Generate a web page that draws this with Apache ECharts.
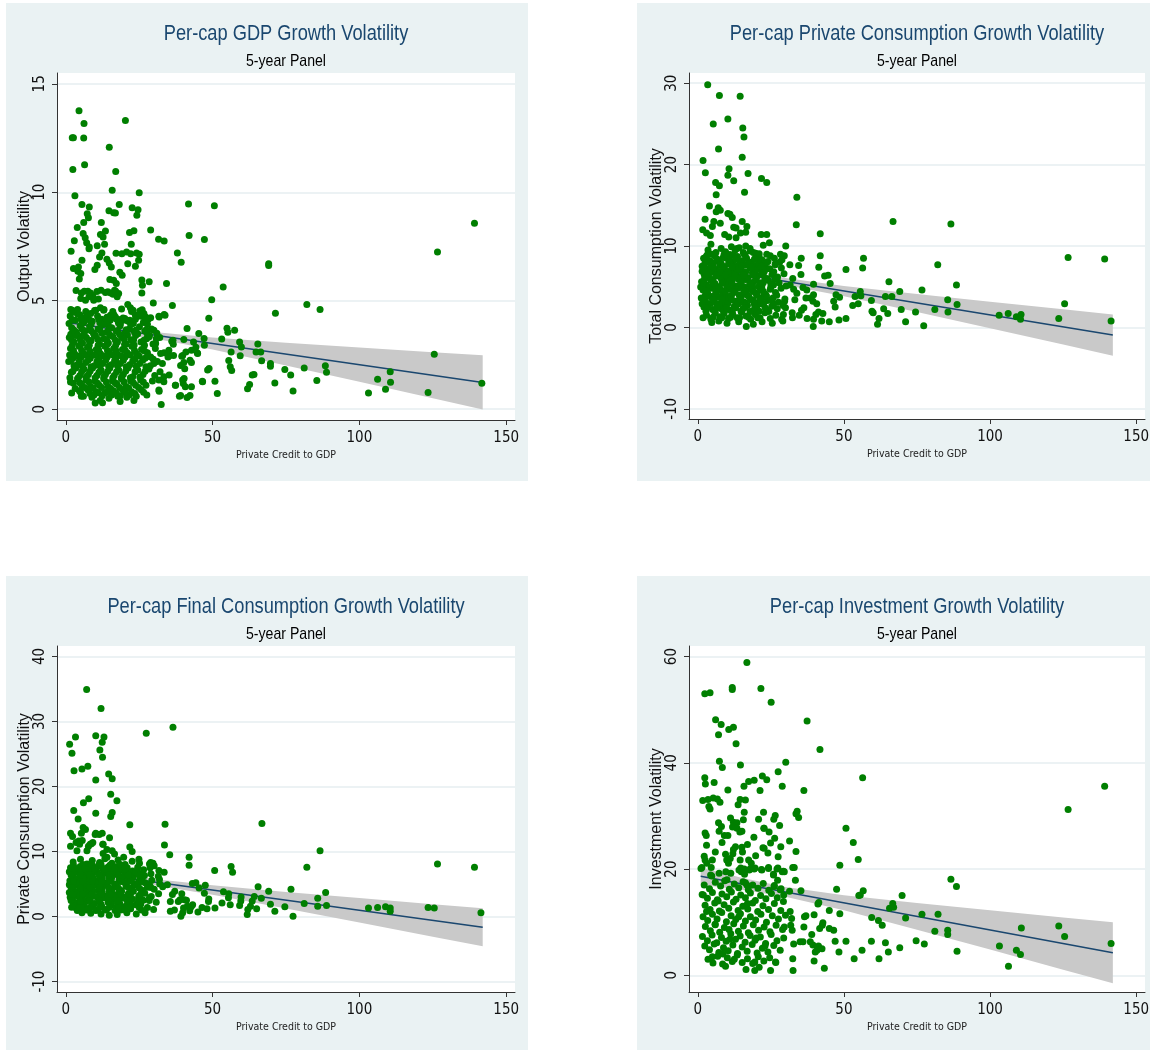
<!DOCTYPE html>
<html>
<head>
<meta charset="utf-8">
<script src="https://cdn.jsdelivr.net/npm/echarts@6/dist/echarts.min.js"></script>
<style>
  html, body { margin: 0; padding: 0; background: #fff; }
  #chart { width: 1151px; height: 1050px; }
</style>
</head>
<body>
<div id="chart"></div>
<script>
// shared x-axis stuff
const xTicks = [0, 50, 100, 150]
const fitX = [1, 142]
const bandX = [1, 15, 30, 50, 75, 100, 125, 142]

// --- Per-cap GDP growth volatility ---
const gdpTicks = [0, 5, 10, 15]
const gdpFit = [3.98, 1.23]
const gdpLo = [3.64, 3.49, 3.26, 2.75, 2.01, 1.26, 0.50, -0.02]
const gdpHi = [4.32, 3.92, 3.56, 3.30, 3.06, 2.84, 2.62, 2.48]
const gdpPts = [
  [4.5,13.76],[6.2,13.17],[2.2,12.51],[2.6,12.51],[6.1,12.5],[2.4,11.05],[6.4,11.27],[20.3,13.31],[14.8,12.08],[17.0,10.96],
  [3.1,9.84],[15.8,10.09],[25.0,9.98],[5.5,9.44],[8.0,9.32],[18.2,9.44],[22.6,9.29],[24.2,8.94],[24.6,9.2],[14.7,9.15],
  [16.3,9.06],[7.3,9.01],[7.7,8.83],[6.1,8.61],[12.1,8.61],[3.9,8.38],[21.7,8.14],[23.2,8.23],[28.9,8.26],[41.8,9.46],
  [50.6,9.38],[42.0,8.01],[47.2,7.82],[31.6,7.83],[33.5,7.75],[38.0,7.2],[39.3,6.77],[69.1,6.7],[69.1,6.62],[34.3,5.79],
  [53.6,5.63],[36.3,4.78],[29.8,4.9],[49.7,5.05],[48.7,4.19],[71.4,4.42],[82.1,4.82],[86.6,4.59],[126.6,7.25],[139.2,8.57],
  [125.5,2.53],[141.7,1.2],[123.4,0.77],[103.1,0.75],[106.2,1.38],[108.9,0.92],[110.5,1.73],[110.6,1.24],[88.4,2.0],[88.8,1.7],
  [85.5,1.32],[81.2,1.9],[77.4,0.84],[76.6,1.58],[74.6,1.83],[71.2,1.21],[69.7,2.1],[69.7,1.98],[66.7,2.23],[65.4,3.01],
  [66.4,2.63],[64.8,2.63],[64.1,1.6],[63.5,1.58],[61.9,0.94],[62.6,1.14],[59.4,2.46],[59.8,2.87],[59.2,3.1],[57.5,3.64],
  [54.9,3.73],[55.2,3.55],[53.1,3.24],[56.3,2.64],[55.5,2.24],[56.0,1.95],[56.5,1.78],[50.8,1.29],[51.6,0.72],[46.5,1.29],
  [48.8,1.87],[48.3,1.8],[47.2,2.95],[47.1,3.26],[45.3,3.49],[44.3,2.86],[44.8,2.59],[41.3,3.72],[42.8,2.72],[42.3,2.26],
  [42.8,2.15],[40.2,3.21],[39.8,2.47],[40.2,2.15],[39.1,2.01],[40.5,1.86],[37.3,1.1],[38.7,0.6],[39.1,0.63],[39.8,1.34],
  [40.0,1.18],[40.7,1.03],[41.3,0.54],[42.3,0.63],[42.8,1.03],[36.1,3.13],[36.6,2.99],[36.7,2.47],[35.4,2.47],[35.1,2.72],
  [32.5,0.21],[31.8,0.83],[31.7,1.34],[33.4,1.49],[33.5,4.36],[31.7,4.28],
  [16.9,9.05],[5.9,8.1],[6.6,7.9],[7.1,7.67],[2.9,7.76],[8.0,7.48],[7.9,7.4],[1.8,7.28],[11.8,8.05],[12.7,7.94],
  [13.2,7.6],[10.7,7.53],[13.5,8.22],[22.3,7.6],[17.1,7.19],[19.1,7.17],[20.7,7.25],[22.1,7.16],[24.1,7.2],[25.0,7.14],
  [24.8,6.87],[23.7,6.59],[21.1,6.71],[12.3,7.2],[11.5,7.02],[14.0,6.91],[14.8,6.74],[15.5,6.56],[10.7,6.64],[9.9,6.44],
  [2.6,6.48],[4.3,6.56],[4.1,6.36],[4.6,6.0],[5.5,6.87],[5.1,6.25],[15.0,5.98],[16.3,5.94],[17.2,5.79],[19.2,6.18],
  [18.4,6.31],[16.6,5.48],[17.5,5.18],[18.0,5.33],[25.9,5.96],[26.1,5.71],[25.9,5.36],[28.4,5.88],[3.5,5.47],[5.3,5.36],
  [6.3,5.44],[7.5,5.44],[8.4,5.36],[9.2,5.24],[10.6,5.42],[12.0,5.48],[13.5,5.38],[14.3,5.41],[15.3,5.36],[16.1,5.3],
  [17.0,5.44],[5.1,5.1],[6.7,5.02],[7.9,5.18],[9.5,5.02],[11.1,5.08],
  [1.7,4.59],[2.6,4.48],[4.0,4.39],[5.6,4.22],[7.2,4.33],[8.5,4.41],[10.2,4.56],[11.8,4.68],[12.9,4.56],[14.0,4.24],
  [15.2,4.33],[16.9,4.25],[18.6,4.13],[20.1,4.18],[21.1,4.82],[22.0,4.68],[22.9,4.56],[21.8,4.1],[23.7,4.33],[25.2,4.53],
  [25.7,4.28],[26.6,4.41],[27.2,4.25],[28.9,4.22],[31.8,4.25],[33.8,4.33],
  [32.3,2.57],[32.9,2.1],[32.1,1.72],[33.4,1.26],[31.7,0.88],[30.0,2.1],[30.6,3.03],[28.9,2.41],[27.7,3.49],[30.0,3.64],
  [28.3,3.33],[35.2,1.57],[34.8,2.41],[36.5,3.18],[37.4,1.1],[40.3,1.41],[39.5,2.44],[40.9,2.64],[43.5,3.1],[44.9,2.57],[46.6,1.26],
  [1.5,4.3],[3.2,4.1],[4.8,4.35],[6.1,4.0],[7.5,4.2],[9.0,4.05],[10.8,4.3],[12.2,4.15],[13.6,3.95],[15.1,4.1],
  [16.4,4.35],[17.9,3.98],[19.5,4.2],[21.3,4.05],[23.0,3.95],[24.6,4.3],[26.4,4.0],[28.1,4.15],
  [2.0,3.75],[3.6,3.55],[4.9,3.85],[6.5,3.6],[8.1,3.8],[9.4,3.5],[11.0,3.7],[12.7,3.9],[13.9,3.55],[15.6,3.75],
  [17.2,3.6],[18.5,3.85],[20.1,3.5],[21.7,3.7],[23.4,3.55],[25.1,3.8],[26.9,3.6],[29.2,3.7],[31.0,3.5],
  [1.2,3.3],[2.8,3.1],[4.2,3.4],[5.7,3.05],[7.0,3.3],[8.6,3.15],[10.1,3.4],[11.5,3.0],[13.0,3.25],[14.5,3.05],
  [16.0,3.35],[17.6,3.1],[19.0,3.3],[20.6,3.0],[22.2,3.2],[23.8,3.4],[25.6,3.1],[27.5,3.25],[29.7,3.0],[32.0,3.3],
  [1.6,2.8],[3.0,2.55],[4.5,2.9],[5.9,2.6],[7.4,2.85],[8.9,2.5],[10.4,2.75],[11.8,2.55],[13.3,2.9],[14.8,2.6],
  [16.3,2.8],[17.8,2.5],[19.3,2.75],[20.9,2.6],[22.5,2.9],[24.1,2.55],[25.8,2.75],[27.8,2.6],[30.5,2.8],[33.5,2.6],
  [1.0,2.2],[2.4,2.35],[3.9,2.05],[5.3,2.4],[6.8,2.15],[8.3,2.35],[9.7,2.0],[11.2,2.3],[12.6,2.1],[14.1,2.4],
  [15.5,2.05],[17.0,2.3],[18.6,2.1],[20.2,2.4],[21.8,2.05],[23.5,2.3],[25.2,2.1],[27.0,2.35],[28.8,2.0],[31.2,2.2],
  [1.9,1.7],[3.4,1.9],[4.8,1.55],[6.2,1.85],[7.7,1.6],[9.1,1.9],[10.6,1.55],[12.0,1.8],[13.5,1.6],[15.0,1.9],
  [16.5,1.55],[18.0,1.8],[19.6,1.6],[21.2,1.9],[22.8,1.5],[24.5,1.8],[26.3,1.6],[28.3,1.85],[30.3,1.55],
  [2.6,1.2],[4.0,1.4],[5.5,1.1],[6.9,1.35],[8.4,1.05],[9.9,1.3],[11.4,1.1],[12.9,1.4],[14.4,1.05],[15.9,1.3],
  [17.4,1.15],[18.9,1.4],[20.5,1.05],[22.1,1.3],[23.8,1.1],[25.5,1.35],[27.3,1.1],[29.5,1.3],
  [4.6,0.85],[6.0,0.6],[7.5,0.9],[8.9,0.55],[10.3,0.8],[11.7,0.4],[13.2,0.75],[14.7,0.5],[16.2,0.85],[17.7,0.6],
  [19.3,0.9],[20.8,0.55],[22.4,0.8],[24.0,0.6],[25.7,0.9],[27.6,0.65],[10.0,0.28],[12.5,0.3],[18.5,0.35],[23.2,0.4],
  [2.3,4.55],[4.0,4.6],[6.8,4.5],[9.8,4.55],[13.0,4.6],[16.0,4.5],[19.0,4.62],[22.4,4.5],[26.0,4.58],
  [1.1,3.95],[5.6,3.98],[8.6,3.9],[11.6,3.98],[14.4,3.9],[18.6,3.95],[22.1,3.9],[27.8,3.92],
  [1.7,3.45],[3.4,3.4],[6.2,3.45],[9.7,3.38],[12.3,3.5],[15.0,3.42],[18.3,3.45],[21.0,3.42],[24.5,3.48],[28.5,3.4],
  [2.2,2.95],[5.0,2.98],[8.0,2.95],[11.0,2.95],[14.0,2.98],[17.0,2.95],[20.0,2.98],[23.3,2.96],[26.8,2.95],
  [1.3,2.5],[4.2,2.45],[7.0,2.5],[10.0,2.48],[13.0,2.45],[16.0,2.5],[19.0,2.45],[22.0,2.5],[25.0,2.45],[28.0,2.45],
  [2.8,2.0],[5.6,1.98],[8.6,1.96],[11.6,2.0],[14.6,1.98],[17.6,2.0],[20.6,1.96],[24.0,1.98],[27.3,1.96],
  [1.4,1.45],[4.2,1.45],[7.0,1.48],[10.0,1.45],[13.0,1.48],[16.0,1.45],[19.0,1.48],[22.0,1.45],[25.2,1.48],
  [3.2,0.95],[6.4,1.0],[9.3,0.98],[12.2,1.0],[15.3,0.95],[18.3,1.0],[21.4,0.97],[24.8,1.0],
  [5.3,0.6],[9.6,0.65],[12.4,0.62],[15.6,0.65],[18.6,0.62],[21.6,0.65],
  [2.0,0.75],[5.0,0.78],[8.2,0.72],[11.0,0.76],[14.0,0.8],[17.2,0.74],[20.2,0.78],[23.5,0.72],[26.5,0.78],
  [1.6,1.25],[4.8,1.22],[7.8,1.26],[10.8,1.2],[13.8,1.25],[16.8,1.22],[19.8,1.26],[23.0,1.22],[26.4,1.25],
  [2.4,1.75],[5.4,1.72],[8.3,1.76],[11.3,1.7],[14.3,1.75],[17.3,1.72],[20.4,1.76],[23.6,1.72],[27.0,1.75],
  [1.8,2.25],[4.6,2.22],[7.6,2.26],[10.6,2.2],[13.6,2.25],[16.6,2.22],[19.6,2.26],[22.8,2.22],[26.2,2.25],[29.8,2.3],
  [2.6,2.7],[5.4,2.72],[8.2,2.68],[11.2,2.72],[14.2,2.7],[17.2,2.68],[20.2,2.72],[23.4,2.7],[26.8,2.68],
  [1.9,3.2],[4.9,3.22],[7.9,3.18],[10.9,3.22],[13.9,3.2],[16.9,3.18],[19.9,3.22],[23.1,3.2],[26.6,3.18],[30.8,3.25],
  [2.7,3.65],[5.6,3.68],[8.6,3.62],[11.6,3.66],[14.6,3.68],[17.6,3.62],[20.6,3.66],[23.8,3.64],[27.4,3.66],
  [2.2,4.12],[5.2,4.16],[8.2,4.1],[11.2,4.14],[14.2,4.12],[17.2,4.16],[20.4,4.1],[23.7,4.14],[27.0,4.12]
]

// --- Per-cap private consumption growth volatility ---
const consTicks = [-10, 0, 10, 20, 30]
const consFit = [7.35, -0.94]
const consLo = [6.60, 6.01, 5.22, 3.84, 1.90, -0.10, -2.11, -3.48]
const consHi = [8.10, 7.05, 6.06, 5.10, 4.10, 3.16, 2.23, 1.60]
const consPts = [
  [3.4,29.8],[7.4,28.5],[14.5,28.4],[10.3,25.6],[5.3,25.0],[15.4,24.5],[15.8,23.4],[7.1,21.9],[15.2,20.9],[1.8,20.5],
  [2.6,19.0],[10.7,19.5],[10.3,18.7],[17.2,18.9],[12.3,18.0],[6.1,17.8],[7.4,17.4],[21.8,18.3],[23.6,17.8],[16.0,16.6],
  [6.3,16.3],[33.9,16.0],[4.0,14.9],[7.0,14.7],[7.7,14.4],[6.3,14.2],[10.3,14.0],[11.0,13.9],[11.8,13.5],[2.5,13.3],
  [5.5,13.0],[7.7,12.8],[5.0,12.4],[15.2,13.0],[16.8,12.4],[12.3,12.3],[13.1,12.2],[86.6,12.7],[66.8,13.0],[33.7,12.6],
  [41.9,11.5],[1.7,12.0],[3.0,11.6],[4.3,11.3],[4.5,10.2],[9.2,11.4],[10.6,11.1],[13.1,11.0],[16.4,11.7],[14.6,11.6],
  [21.7,11.4],[23.6,11.4],[22.4,10.1],[24.5,10.4],[30.1,10.0],[2.9,8.7],[9.0,9.0],[9.9,8.5],[12.2,8.9],[11.5,9.9],
  [13.4,9.7],[15.6,9.2],[16.4,10.0],[17.9,9.7],[19.0,9.2],[20.9,8.8],[23.6,9.0],[24.8,8.8],[28.3,9.0],[29.6,8.8],
  [35.4,8.5],[41.9,8.8],[34.5,7.6],[26.5,7.8],[31.5,7.7],[28.8,8.3],[56.7,8.5],[126.7,8.6],[139.2,8.4],[82.1,7.7],
  [56.4,7.3],[50.7,7.1],[41.4,7.4],[45.3,5.4],[43.4,6.3],[44.6,6.4],[35.3,6.5],[32.5,6.0],[39.6,5.3],[36.0,4.9],
  [31.6,5.2],[65.4,5.6],[88.5,5.2],[76.7,4.6],[69.1,4.4],[55.6,4.4],[55.8,3.9],[53.8,3.8],[47.3,4.0],[48.5,3.7],
  [46.5,3.2],[47.0,2.5],[64.2,3.8],[66.4,3.8],[59.4,3.3],[85.5,3.4],[88.7,2.8],[125.5,2.9],[54.9,2.9],[53.0,2.7],
  [59.6,2.0],[60.0,1.8],[63.6,2.3],[65.0,1.7],[69.6,2.2],[74.5,1.9],[81.1,2.2],[85.6,1.9],[103.1,1.5],[106.2,1.7],
  [109.0,1.3],[110.6,1.6],[110.4,1.0],[123.5,1.1],[141.4,0.8],[62.0,1.1],[61.5,0.4],[71.1,0.7],[77.3,0.2],[50.7,1.1],
  [48.3,0.9],[45.0,0.7],[42.4,0.8],[42.8,1.7],[39.5,0.1],[39.6,1.0],[40.4,1.6],[41.3,1.9],[40.7,2.9],[39.4,3.2],
  [39.6,4.0],[38.5,3.6],[37.0,3.6],[37.3,4.6],[37.4,1.1],[36.3,2.4],[35.5,2.1],[34.7,1.5],[33.2,3.4],[33.9,4.2],
  [32.8,4.7],[32.3,1.8],[32.4,1.2],[29.7,3.2],[30.0,2.4],[29.1,0.8],[29.3,1.6],
  [3.5,9.5],[6.2,9.2],[8.0,9.7],[9.5,9.3],[12.8,9.5],[14.2,9.8],[18.0,9.4],[19.8,9.1],
  [2.0,8.5],[4.2,8.2],[5.8,8.8],[7.3,8.0],[8.7,8.6],[10.6,8.3],[12.0,8.1],[13.6,8.7],[15.1,8.2],[16.7,8.5],
  [18.3,8.0],[20.0,8.6],[22.0,8.3],[24.0,8.1],[26.2,8.5],[28.0,8.0],
  [1.5,7.5],[3.0,7.2],[4.6,7.7],[6.1,7.1],[7.6,7.6],[9.1,7.3],[10.5,7.8],[12.0,7.2],[13.4,7.5],[14.9,7.0],
  [16.3,7.7],[17.9,7.3],[19.5,7.6],[21.1,7.1],[22.8,7.5],[24.6,7.2],[26.5,7.7],[28.6,7.3],
  [2.2,6.5],[3.8,6.2],[5.3,6.8],[6.8,6.3],[8.3,6.6],[9.8,6.0],[11.2,6.5],[12.7,6.8],[14.2,6.2],[15.6,6.6],
  [17.1,6.1],[18.7,6.7],[20.3,6.3],[21.9,6.6],[23.6,6.0],[25.4,6.5],[27.3,6.2],[29.5,6.6],
  [1.3,5.6],[2.9,5.2],[4.4,5.8],[5.9,5.4],[7.4,5.0],[8.9,5.7],[10.3,5.3],[11.8,5.8],[13.2,5.1],[14.7,5.5],
  [16.2,5.9],[17.7,5.2],[19.2,5.6],[20.8,5.0],[22.4,5.5],[24.1,5.8],[25.9,5.2],[27.8,5.5],[30.2,5.1],
  [1.8,4.6],[3.4,4.2],[4.9,4.8],[6.4,4.3],[7.9,4.6],[9.4,4.1],[10.9,4.7],[12.4,4.3],[13.8,4.8],[15.3,4.0],
  [16.8,4.5],[18.3,4.9],[19.9,4.2],[21.5,4.6],[23.1,4.1],[24.8,4.7],[26.6,4.3],[28.5,4.8],
  [1.2,3.6],[2.6,3.2],[4.1,3.8],[5.6,3.3],[7.1,3.7],[8.6,3.0],[10.0,3.5],[11.5,3.9],[13.0,3.2],[14.5,3.6],
  [16.0,3.1],[17.5,3.8],[19.0,3.4],[20.6,3.0],[22.2,3.7],[23.9,3.3],[25.7,3.6],[27.6,3.1],[29.8,3.5],
  [2.1,2.5],[3.6,2.9],[5.1,2.2],[6.6,2.7],[8.1,2.3],[9.6,2.8],[11.0,2.1],[12.5,2.6],[14.0,2.9],[15.5,2.3],
  [17.0,2.7],[18.6,2.0],[20.2,2.5],[21.8,2.9],[23.5,2.2],[25.3,2.6],[27.2,2.3],[29.2,2.7],
  [3.0,1.5],[4.5,1.0],[6.0,1.8],[7.5,1.3],[9.0,1.7],[10.5,1.1],[12.0,1.6],[13.5,1.2],[15.0,1.9],[16.5,1.4],
  [18.1,1.0],[19.7,1.6],[21.3,1.2],[23.0,1.8],[24.8,1.1],[26.7,1.5],[28.7,1.0],
  [4.8,0.6],[7.2,0.8],[10.0,0.5],[14.0,0.7],[16.6,0.1],[19.0,0.4],[22.0,0.7],[25.5,0.5],
  [4.8,9.0],[11.0,8.95],[15.9,9.0],[21.0,9.05],
  [2.5,7.9],[5.2,7.95],[8.0,7.85],[11.2,7.9],[14.3,7.95],[17.2,7.85],[20.8,7.9],[23.5,7.95],
  [1.5,6.9],[4.4,6.95],[7.5,6.85],[10.4,6.9],[13.4,6.95],[16.4,6.85],[19.6,6.95],[22.8,6.9],[26.0,6.85],
  [2.3,5.95],[5.2,5.9],[8.1,5.95],[11.0,5.9],[13.9,5.95],[17.0,5.9],[20.0,5.95],[23.0,5.9],[26.5,5.95],
  [1.0,4.95],[4.0,5.0],[6.9,4.95],[9.9,5.0],[12.8,4.95],[15.8,5.0],[18.8,4.95],[21.9,5.0],[25.0,4.95],
  [2.6,3.95],[5.5,3.9],[8.4,3.95],[11.3,3.9],[14.2,3.95],[17.2,3.9],[20.3,3.95],[23.5,3.9],[27.0,3.95],
  [1.5,2.9],[4.4,2.95],[7.3,2.9],[10.3,2.95],[13.2,2.9],[16.2,2.95],[19.3,2.9],[22.5,2.95],[26.0,2.9],
  [2.8,2.0],[5.8,1.95],[8.8,2.0],[11.8,1.95],[14.8,2.0],[17.9,1.95],[21.0,2.0],[24.3,1.95],
  [1.8,1.2],[5.2,1.25],[8.2,1.2],[11.2,1.25],[14.3,1.2],[17.4,1.25],[20.5,1.2],
  [3.2,8.9],[6.6,8.4],[9.8,8.9],[13.0,8.4],[16.2,8.9],[19.4,8.4],
  [2.0,7.5],[5.3,7.45],[8.6,7.5],[11.8,7.45],[15.0,7.5],[18.4,7.45],[21.8,7.5],
  [3.0,6.45],[6.2,6.4],[9.4,6.45],[12.6,6.4],[15.8,6.45],[19.0,6.4],[22.4,6.45],
  [2.0,5.45],[5.2,5.4],[8.4,5.45],[11.6,5.4],[14.8,5.45],[18.0,5.4],[21.4,5.45],[25.0,5.4],
  [3.0,4.45],[6.2,4.4],[9.4,4.45],[12.6,4.4],[15.8,4.45],[19.0,4.4],[22.4,4.45],
  [2.0,3.45],[5.2,3.4],[8.4,3.45],[11.6,3.4],[14.8,3.45],[18.0,3.4],[21.4,3.45],[25.0,3.4],
  [3.4,2.45],[6.6,2.4],[9.8,2.45],[13.0,2.4],[16.2,2.45],[19.5,2.4],[23.0,2.45]
]

// --- Per-cap final consumption growth volatility ---
const finalTicks = [-10, 0, 10, 20, 30, 40]
const finalFit = [7.13, -1.65]
const finalLo = [6.31, 5.70, 4.87, 3.36, 1.25, -0.92, -3.10, -4.58]
const finalHi = [7.95, 6.82, 5.77, 4.80, 3.79, 2.84, 1.90, 1.28]
const finalPts = [
  [7.1,34.9],[12.0,32.0],[36.5,29.1],[27.4,28.2],[1.3,26.5],[3.3,27.6],[10.2,27.8],[13.0,27.6],[12.4,26.8],[2.1,25.1],
  [11.6,25.6],[12.5,24.5],[2.8,22.4],[5.5,22.7],[7.5,23.1],[14.6,21.9],[15.8,21.2],[10.2,21.0],[15.3,18.8],[7.8,18.1],
  [6.0,17.5],[17.4,17.8],[2.7,16.3],[10.2,15.9],[15.8,16.0],[15.3,15.4],[4.2,15.0],[66.8,14.3],[33.8,14.2],[21.8,14.1],
  [5.9,13.7],[6.7,13.4],[5.3,12.8],[1.6,12.8],[2.3,12.3],[10.2,12.8],[11.4,12.6],[12.4,12.8],[14.9,12.1],[1.6,10.8],
  [4.4,11.6],[5.6,11.7],[7.7,10.8],[8.7,11.2],[12.6,11.1],[21.8,10.7],[22.6,10.0],[33.6,11.0],[35.4,9.5],[86.6,10.1],
  [42.0,9.1],[42.0,7.9],[126.6,8.1],[139.2,7.6],[82.1,7.6],[50.7,7.1],[56.3,7.7],[56.8,6.8],[29.7,8.2],[28.5,8.1],
  [30.1,7.8],[31.7,7.1],[33.5,6.8],[31.9,5.7],[34.6,4.9],[43.1,5.1],[44.3,5.2],[45.4,4.4],[47.5,4.8],[47.2,3.6],
  [65.5,4.6],[69.1,3.9],[76.7,4.2],[88.5,3.7],[85.8,2.8],[85.8,1.6],[88.8,1.7],[81.2,2.0],[74.6,1.5],[71.2,0.8],
  [77.4,0.05],[69.7,1.9],[66.6,2.8],[65.0,1.2],[63.5,2.4],[64.2,3.1],[62.9,1.6],[61.8,0.3],[62.0,1.1],[59.7,3.0],
  [59.2,1.7],[59.6,2.4],[55.5,3.5],[55.4,2.9],[56.0,1.8],[53.7,3.8],[53.2,2.1],[50.8,1.3],[48.7,2.7],[48.6,2.3],
  [48.1,1.2],[46.4,1.4],[45.0,0.7],[43.2,1.8],[42.2,0.9],[42.7,1.5],[41.1,2.5],[41.4,1.6],[40.1,1.3],[39.2,0.05],
  [39.8,0.6],[39.5,3.5],[40.4,2.6],[38.3,2.3],[38.9,2.6],[37.1,3.9],[36.3,3.4],[35.6,2.3],[37.0,1.0],[35.6,0.8],
  [103.1,1.3],[106.2,1.4],[108.9,1.5],[110.5,1.3],[110.5,0.8],[123.4,1.4],[125.5,1.3],[141.4,0.6],
  [3.5,11.4],[4.7,11.1],[3.8,10.1],[7.2,10.1],[8.3,11.1],[9.2,11.4],[10.0,12.6],[12.7,11.1],[14.0,10.3],[15.8,10.1],
  [16.6,9.6],[14.0,9.1],[12.7,9.7],[19.7,9.1],[24.9,8.8],[28.9,8.3],
  [2.5,8.4],[5.0,8.8],[7.2,8.1],[9.0,8.6],[11.5,8.3],[13.3,8.9],[15.7,8.2],[17.8,8.7],[20.2,8.0],[22.6,8.5],[25.1,8.2],
  [1.6,7.5],[3.3,7.1],[4.9,7.7],[6.4,7.2],[8.0,7.6],[9.6,7.0],[11.1,7.8],[12.7,7.3],[14.3,7.6],[15.9,7.1],
  [17.5,7.7],[19.2,7.2],[20.9,7.5],[22.7,7.0],[24.5,7.6],[26.5,7.2],[28.7,7.5],
  [2.2,6.4],[3.8,6.8],[5.4,6.1],[6.9,6.6],[8.5,6.2],[10.0,6.8],[11.6,6.3],[13.1,6.7],[14.7,6.0],[16.3,6.5],
  [17.9,6.9],[19.5,6.2],[21.2,6.6],[22.9,6.1],[24.8,6.7],[26.8,6.3],[29.0,6.6],[31.5,6.2],
  [1.4,5.5],[3.0,5.1],[4.5,5.8],[6.0,5.3],[7.5,5.7],[9.0,5.0],[10.5,5.5],[12.0,5.9],[13.5,5.2],[15.0,5.6],
  [16.6,5.0],[18.2,5.7],[19.8,5.3],[21.5,5.8],[23.2,5.1],[25.0,5.5],[27.0,5.2],[29.3,5.6],[32.0,5.0],
  [2.0,4.3],[3.5,4.8],[5.0,4.1],[6.5,4.6],[8.0,4.2],[9.5,4.8],[11.0,4.0],[12.5,4.5],[14.0,4.9],[15.6,4.2],
  [17.2,4.6],[18.8,4.0],[20.5,4.7],[22.1,4.3],[23.9,4.8],[25.8,4.1],[27.8,4.5],[30.1,4.2],[33.0,4.6],
  [1.2,3.7],[2.7,3.2],[4.2,3.8],[5.7,3.0],[7.2,3.5],[8.7,3.9],[10.2,3.1],[11.7,3.6],[13.2,3.2],[14.8,3.8],
  [16.4,3.3],[18.0,3.7],[19.6,3.0],[21.3,3.5],[23.0,3.9],[24.9,3.2],[26.9,3.6],[29.1,3.1],[31.6,3.5],
  [2.3,2.6],[3.8,2.1],[5.3,2.8],[6.8,2.3],[8.3,2.7],[9.8,2.0],[11.3,2.5],[12.9,2.9],[14.4,2.2],[16.0,2.6],
  [17.6,2.0],[19.3,2.8],[21.0,2.3],[22.7,2.7],[24.5,2.1],[26.4,2.5],[28.5,2.9],[30.8,2.2],
  [3.3,1.4],[4.8,1.0],[6.3,1.7],[7.8,1.2],[9.3,1.6],[10.8,1.0],[12.3,1.5],[13.9,1.1],[15.5,1.8],[17.1,1.3],
  [18.7,1.0],[20.4,1.6],[22.1,1.2],[23.9,1.8],[25.8,1.0],[27.8,1.4],[29.9,1.1],
  [5.5,0.6],[8.5,0.5],[12.0,0.4],[14.8,0.2],[17.5,0.3],[20.8,0.6],[24.0,0.4],[27.0,0.6],
  [2.6,7.9],[5.8,8.0],[9.0,7.9],[12.0,8.0],[15.0,7.9],[18.5,8.0],
  [1.2,6.9],[4.6,6.85],[7.6,6.9],[10.8,6.85],[14.0,6.9],[17.2,6.85],[20.5,6.9],[23.8,6.85],
  [2.8,5.95],[6.0,5.9],[9.2,5.95],[12.4,5.9],[15.6,5.95],[18.8,5.9],[22.2,5.95],[26.0,5.9],
  [1.2,4.9],[4.4,4.95],[7.6,4.9],[10.8,4.95],[14.0,4.9],[17.2,4.95],[20.6,4.9],[24.4,4.95],[28.5,4.9],
  [2.8,3.95],[6.0,3.9],[9.2,3.95],[12.4,3.9],[15.6,3.95],[19.0,3.9],[22.4,3.95],[26.2,3.9],
  [1.5,2.95],[4.6,2.9],[7.8,2.95],[11.0,2.9],[14.2,2.95],[17.5,2.9],[21.0,2.95],[24.8,2.9],
  [2.5,1.95],[5.6,1.9],[8.8,1.95],[12.0,1.9],[15.2,1.95],[18.5,1.9],[22.0,1.95],[25.5,1.9],
  [3.9,0.95],[7.0,1.0],[10.2,0.95],[13.5,1.0],[16.8,0.95],[20.0,1.0],
  [2.0,1.45],[5.2,1.4],[8.4,1.45],[11.6,1.4],[14.8,1.45],[18.0,1.4],[21.4,1.45],[25.0,1.4],
  [1.8,2.45],[5.0,2.4],[8.2,2.45],[11.4,2.4],[14.6,2.45],[17.8,2.4],[21.2,2.45],[24.8,2.4],[28.4,2.45],
  [2.5,3.4],[5.7,3.45],[8.9,3.4],[12.1,3.45],[15.3,3.4],[18.6,3.45],[22.0,3.4],[25.6,3.45],
  [1.8,4.45],[5.0,4.4],[8.2,4.45],[11.4,4.4],[14.6,4.45],[17.9,4.4],[21.3,4.45],[25.0,4.4],[29.0,4.45],
  [2.6,5.45],[5.8,5.4],[9.0,5.45],[12.2,5.4],[15.4,5.45],[18.7,5.4],[22.1,5.45],[25.8,5.4],
  [1.8,6.4],[5.0,6.35],[8.2,6.4],[11.4,6.35],[14.6,6.4],[17.9,6.35],[21.3,6.4],[25.0,6.35],
  [3.0,7.4],[6.4,7.35],[9.8,7.4],[13.2,7.35],[16.6,7.4],[20.2,7.35]
]

// --- Per-cap investment growth volatility ---
const invTicks = [0, 20, 40, 60]
const invFit = [18.66, 4.24]
const invLo = [17.04, 16.12, 14.78, 12.24, 8.58, 4.83, 1.06, -1.51]
const invHi = [20.28, 18.34, 16.60, 15.06, 13.60, 12.23, 10.88, 9.99]
const invPts = [
  [16.8,58.9],[2.4,53.0],[4.2,53.2],[11.8,54.2],[11.8,53.8],[21.6,54.0],[25.1,51.4],[37.4,47.9],[6.1,48.1],[8.0,47.2],
  [10.6,46.3],[12.2,46.7],[7.1,45.3],[13.1,43.6],[41.8,42.5],[7.4,40.3],[8.4,39.1],[14.6,39.6],[30.1,40.1],[27.5,38.3],
  [2.4,37.2],[2.6,36.0],[5.6,36.3],[10.3,34.9],[17.4,36.5],[19.3,36.7],[15.8,35.6],[22.1,37.5],[23.6,36.8],[21.3,34.8],
  [28.9,35.6],[36.3,34.8],[56.4,37.2],[139.2,35.6],[1.7,32.9],[3.5,33.1],[4.2,31.3],[3.8,31.8],[5.3,33.4],[6.7,33.2],
  [7.6,32.6],[13.8,32.1],[14.5,33.1],[16.3,33.0],[15.9,30.7],[11.2,29.6],[12.2,28.8],[13.4,28.7],[11.9,27.9],[20.8,29.4],
  [22.5,30.7],[22.7,27.7],[26.0,29.4],[26.5,30.1],[28.0,28.2],[34.0,30.9],[34.5,29.7],[33.6,30.4],[126.7,31.2],[7.1,28.7],
  [8.1,28.0],[7.3,27.1],[9.1,26.3],[8.3,25.0],[10.3,26.3],[2.5,26.8],[2.9,26.3],[13.4,27.7],[14.4,27.0],[15.1,27.1],
  [15.6,29.3],[19.2,26.0],[22.6,27.7],[24.4,27.0],[26.3,25.8],[24.9,24.9],[22.7,23.9],[22.3,24.0],[28.4,24.2],[31.4,25.3],
  [33.6,23.3],[50.7,27.7],[53.2,25.0],[54.9,21.8],[48.6,20.7],[32.5,20.3],[29.3,19.6],[28.9,19.5],[27.4,20.2],[1.1,20.1],
  [1.9,15.1],[2.2,22.4],[2.5,21.7],[3.1,21.1],[5.0,21.7],[4.6,20.3],[4.8,18.7],[9.9,21.7],[10.5,21.1],[11.1,22.0],
  [12.0,22.9],[12.2,23.7],[12.9,24.2],[15.1,24.1],[15.3,23.2],[14.7,20.2],[14.9,19.5],[14.5,21.7],[17.4,21.7],[16.3,17.4],
  [16.8,17.0],[18.3,21.1],[17.9,20.0],[19.6,20.2],[21.8,19.9],[24.2,20.1],[25.9,19.0],[27.1,20.0],[26.1,16.7],[27.3,17.9],
  [28.2,16.1],[86.6,18.1],[88.5,16.7],[47.5,16.2],[55.1,15.0],[56.6,15.9],[55.6,15.1],[69.9,15.0],[66.7,13.5],[65.6,12.6],
  [67.0,12.8],[76.7,11.5],[82.2,11.5],[71.1,10.8],[59.5,10.9],[61.8,10.3],[63.1,9.4],[81.1,8.3],[85.5,8.5],[85.5,7.7],
  [110.7,8.9],[123.5,9.3],[125.5,7.3],[141.4,6.0],[103.2,5.5],[109.0,4.7],[110.4,3.9],[106.3,1.7],[88.7,4.5],[74.7,6.5],
  [77.5,5.9],[69.1,5.2],[64.2,6.1],[65.2,4.4],[62.0,3.1],[59.4,6.4],[56.2,4.7],[53.5,3.1],[50.7,6.4],[48.3,4.4],
  [47.0,6.4],[46.5,8.5],[45.0,8.8],[48.6,11.6],[45.0,12.2],[42.6,9.4],[42.8,9.9],[41.7,8.8],[41.1,13.4],[41.4,13.7],
  [39.8,11.4],[43.3,1.3],[39.8,2.7],[40.2,4.4],[42.5,5.0],[40.8,4.7],[41.3,5.5],[39.0,7.7],[38.5,6.3],[39.4,5.7],
  [36.3,9.1],[36.5,11.0],[37.0,11.2],[35.3,15.9],[36.0,6.3],[35.0,6.3],[32.6,0.9],[32.5,3.1],[32.8,5.9],[32.3,8.5],
  [31.8,9.4],[32.1,10.7],[33.4,17.9],[33.0,20.3],[31.4,15.8],[31.6,12.0],[29.3,13.9],[29.6,9.1],[24.9,0.9],[26.6,2.5],
  [19.5,0.9],
  [3.0,24.5],[6.0,23.2],[9.5,22.8],[17.0,24.6],[19.8,22.5],[24.0,23.0],[27.5,22.3],
  [1.4,20.3],[4.4,18.9],[7.3,19.2],[9.6,19.5],[11.3,19.2],[14.1,19.8],[15.9,20.0],[17.6,19.8],[19.3,20.0],[21.9,19.8],
  [24.2,20.3],[25.9,18.9],[29.6,19.5],
  [2.2,17.0],[4.0,16.3],[6.0,17.5],[7.8,16.8],[9.2,17.8],[10.8,16.2],[12.5,17.2],[14.0,16.5],[15.5,17.6],[17.3,16.1],
  [18.8,17.0],[20.6,16.4],[22.4,17.3],[24.3,16.0],[26.2,16.9],[28.5,16.3],
  [1.5,15.2],[3.3,14.5],[5.0,15.6],[6.7,14.2],[8.3,15.3],[9.9,14.8],[11.5,15.7],[13.1,14.3],[14.7,15.1],[16.3,14.6],
  [18.0,15.5],[19.7,14.1],[21.5,15.0],[23.3,14.4],[25.2,15.4],[27.2,14.6],[29.4,15.1],
  [2.5,13.2],[4.2,12.4],[5.8,13.6],[7.4,12.1],[9.0,13.3],[10.6,12.6],[12.2,13.8],[13.8,12.2],[15.4,13.0],[17.1,12.5],
  [18.8,13.6],[20.5,12.0],[22.3,13.1],[24.2,12.4],[26.2,13.5],[28.4,12.2],
  [1.8,11.0],[3.4,10.3],[5.0,11.5],[6.6,10.6],[8.2,11.8],[9.8,10.1],[11.4,11.2],[13.0,10.5],[14.6,11.6],[16.3,10.2],
  [18.0,11.0],[19.8,10.4],[21.6,11.5],[23.5,10.0],[25.5,11.2],[27.6,10.6],[30.0,11.3],
  [2.6,9.2],[4.3,8.4],[5.9,9.6],[7.5,8.1],[9.1,9.0],[10.7,8.6],[12.3,9.7],[13.9,8.3],[15.6,9.3],[17.3,8.0],
  [19.0,9.5],[20.8,8.5],[22.7,9.1],[24.7,8.2],[26.8,9.4],[29.0,8.6],
  [1.6,7.3],[3.3,6.5],[4.9,7.6],[6.5,6.1],[8.1,7.1],[9.7,6.4],[11.3,7.8],[12.9,6.8],[14.5,7.4],[16.2,6.2],
  [17.9,7.5],[19.6,6.6],[21.4,7.2],[23.2,6.0],[25.1,7.7],[27.1,6.5],[29.4,7.0],
  [2.4,5.5],[4.0,4.8],[5.6,5.9],[7.2,4.3],[8.8,5.2],[10.4,4.6],[12.0,5.7],[13.6,4.1],[15.2,5.3],[16.9,4.5],
  [18.6,5.8],[20.3,4.2],[22.1,5.1],[24.0,4.4],[26.0,5.6],[28.2,4.7],
  [3.5,3.0],[5.2,2.3],[6.8,3.6],[8.5,2.1],[10.1,3.3],[11.8,2.6],[13.5,3.8],[15.2,2.4],[17.0,3.1],[18.8,2.2],
  [20.7,3.5],[22.6,2.7],[24.6,3.3],[26.7,2.4],[9.5,1.7],[16.5,1.1],[21.0,1.5],
  [3.0,12.0],[6.0,9.5],[8.6,4.0],[11.0,6.8],[14.0,11.0],[17.0,13.5],[20.0,7.0],[23.0,5.5],[5.0,3.5],[12.5,3.0],
  [19.5,2.5],[7.0,14.0],[10.0,18.0],[16.0,19.0]
]

const FONT_NARROW = '"Liberation Sans Narrow", "Arial Narrow", "DejaVu Sans Condensed", sans-serif'
const FONT_REG = '"Liberation Sans", Arial, sans-serif'
const NARROW = 0.83   // squeeze Liberation Sans into an Arial-Narrow look

const panels = [
  { title: 'Per-cap GDP Growth Volatility', yName: 'Output Volatility', pts: gdpPts, ticks: gdpTicks,
    fit: gdpFit, lo: gdpLo, hi: gdpHi, ymin: -0.5, ymax: 15.5,
    box: [6, 3, 522, 478], grid: [57, 73, 458, 347], titleY: 34 },
  { title: 'Per-cap Private Consumption Growth Volatility', yName: 'Total Consumption Volatility', pts: consPts, ticks: consTicks,
    fit: consFit, lo: consLo, hi: consHi, ymin: -11.25, ymax: 31.25,
    box: [637, 3, 513, 478], grid: [689, 73, 456, 346], titleY: 34 },
  { title: 'Per-cap Final Consumption Growth Volatility', yName: 'Private Consumption Volatility', pts: finalPts, ticks: finalTicks,
    fit: finalFit, lo: finalLo, hi: finalHi, ymin: -11.6, ymax: 41.6,
    box: [6, 576, 522, 474], grid: [57, 646, 458, 346], titleY: 607 },
  { title: 'Per-cap Investment Growth Volatility', yName: 'Investment Volatility', pts: invPts, ticks: invTicks,
    fit: invFit, lo: invLo, hi: invHi, ymin: -3.15, ymax: 62,
    box: [637, 576, 513, 474], grid: [689, 646, 456, 346], titleY: 607 }
]

const chart = echarts.init(document.getElementById('chart'))

const grids = []
const xAxes = []
const yAxes = []
const series = []
const graphics = []

panels.forEach((p, i) => {
  const [gl, gt, gw, gh] = p.grid
  const cx = gl + gw / 2
  graphics.push({
    type: 'rect', z: -10, silent: true,
    shape: { x: p.box[0], y: p.box[1], width: p.box[2], height: p.box[3] },
    style: { fill: '#eaf2f3' }
  })
  // titles: real text, squeezed horizontally
  graphics.push({
    type: 'text', x: cx, y: p.titleY, scaleX: NARROW, silent: true,
    style: { text: p.title, x: 0, y: 0, align: 'center', verticalAlign: 'middle',
      fontFamily: FONT_REG, fontSize: 22, fill: '#1a476f' }
  })
  graphics.push({
    type: 'text', x: cx, y: p.titleY + 27, scaleX: NARROW, silent: true,
    style: { text: '5-year Panel', x: 0, y: 0, align: 'center', verticalAlign: 'middle',
      fontFamily: FONT_REG, fontSize: 17, fill: '#000' }
  })
  grids.push({
    left: gl, top: gt, width: gw, height: gh, show: true,
    backgroundColor: '#fff', borderWidth: 0, outerBoundsMode: 'none'
  })
  xAxes.push({
    type: 'value', gridIndex: i, min: -3, max: 153,
    name: 'Private Credit to GDP', nameLocation: 'middle', nameGap: 30,
    nameTextStyle: { fontFamily: FONT_NARROW, fontSize: 10.5, color: '#222' },
    axisLine: { show: true, onZero: false, lineStyle: { color: '#333', width: 1 } },
    axisTick: { show: true, length: 5, customValues: xTicks, lineStyle: { color: '#333' } },
    axisLabel: { customValues: xTicks, margin: 11, fontFamily: FONT_NARROW, fontSize: 15, color: '#111' },
    splitLine: { show: false }
  })
  yAxes.push({
    type: 'value', gridIndex: i, min: p.ymin, max: p.ymax,
    name: p.yName, nameLocation: 'middle', nameGap: 22,
    nameTextStyle: { fontFamily: FONT_REG, fontSize: 16, color: '#111' },
    axisLine: { show: true, onZero: false, lineStyle: { color: '#333', width: 1 } },
    axisTick: { show: true, length: 5, customValues: p.ticks, lineStyle: { color: '#333' } },
    axisLabel: { customValues: p.ticks, rotate: 90, margin: 9, fontFamily: FONT_NARROW, fontSize: 15, color: '#111' },
    splitLine: { show: true, lineStyle: { color: '#e6eef1', width: 1.5 } }
  })
  // confidence band, drawn as one polygon through the axis scales
  series.push({
    type: 'custom', xAxisIndex: i, yAxisIndex: i, z: 1, silent: true,
    data: [[bandX[0], p.lo[0]]],
    renderItem: (params, api) => {
      const pts = []
      bandX.forEach((x, k) => pts.push(api.coord([x, p.hi[k]])))
      for (let k = bandX.length - 1; k >= 0; k--) pts.push(api.coord([bandX[k], p.lo[k]]))
      return { type: 'polygon', shape: { points: pts }, style: { fill: '#c9c9c9' } }
    }
  })
  // fitted line sits under the dots, as in the original
  series.push({
    type: 'line', xAxisIndex: i, yAxisIndex: i, z: 2,
    showSymbol: false, symbol: 'none',
    lineStyle: { color: '#1a476f', width: 1.5 },
    data: fitX.map((x, k) => [x, p.fit[k]])
  })
  series.push({
    type: 'scatter', xAxisIndex: i, yAxisIndex: i, z: 3,
    symbolSize: 7, itemStyle: { color: '#007f00', opacity: 1 },
    data: p.pts
  })
})

chart.setOption({
  animation: false,
  backgroundColor: '#fff',
  grid: grids,
  xAxis: xAxes,
  yAxis: yAxes,
  graphic: graphics,
  series: series
})
</script>
</body>
</html>
